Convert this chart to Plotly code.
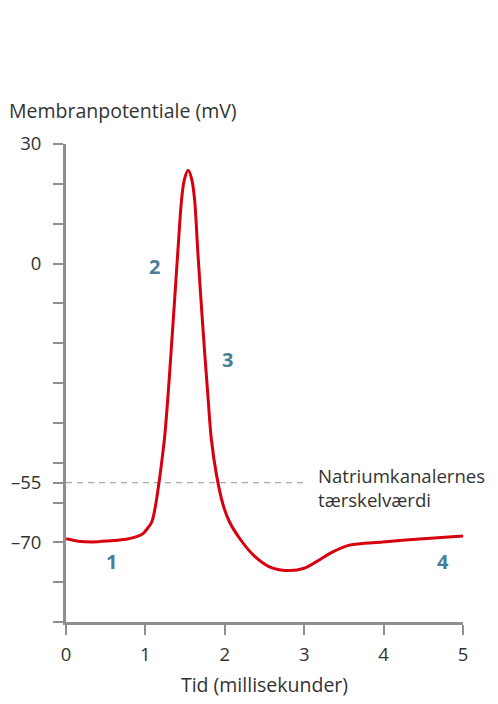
import plotly.graph_objects as go

# Data
time_ms = [0, 0.15, 0.34, 0.55, 0.76, 0.9, 0.97, 1.03, 1.08, 1.12, 1.16, 1.20, 1.245, 1.30,
           1.41, 1.455, 1.49, 1.54, 1.585, 1.62, 1.66, 1.72, 1.79, 1.83, 1.895, 1.98, 2.06,
           2.19, 2.36, 2.57, 2.82, 3.0, 3.15, 3.36, 3.57, 3.99, 4.41, 5.0]
potential_mv = [-69.1, -69.7, -69.9, -69.6, -69.2, -68.5, -67.8, -66.4, -64.9, -61.6, -56.6,
                -50.7, -43, -29, 3.4, 15.9, 21, 23.4, 21, 15.9, 3, -15, -34, -44, -53,
                -60.7, -64.9, -69.1, -73.2, -76.2, -77.1, -76.5, -74.9, -72.4, -70.7, -69.9,
                -69.2, -68.4]

y_tickvals = [30, 20, 10, 0, -10, -20, -30, -40, -50, -55, -60, -70, -80, -90]
y_ticktext = ["30", "", "", "0", "", "", "", "", "", "–55", "", "–70", "", ""]
x_tickvals = [0, 1, 2, 3, 4, 5]
x_ticktext = ["0", "1", "2", "3", "4", "5"]

threshold = -55
threshold_end = 3.0
threshold_label = "Natriumkanalernes<br>tærskelværdi"
phase_labels = ["1", "2", "3", "4"]
phase_x = [0.575, 1.12, 2.04, 4.75]
phase_y = [-74.7, -0.75, -24.1, -74.9]

FONT = "Open Sans"
TXT = "#333333"
AXC = "#8f8f8f"

# page body has an 8px margin; figure is sized to fit the 498x704 window
W, H = 490, 696
ML, MR, MT, MB = 58, 35, 136, 82
PW, PH = W - ML - MR, H - MT - MB

fig = go.Figure()
fig.add_trace(go.Scatter(x=time_ms, y=potential_mv, mode="lines",
                         line=dict(color="#d7000f", width=3, shape="spline", smoothing=0.9),
                         hoverinfo="skip", showlegend=False))

fig.add_shape(type="line", x0=0, x1=threshold_end, y0=threshold, y1=threshold,
              xref="x", yref="y", line=dict(color="#aaaaaa", width=1.2, dash="6px,5px"),
              layer="below")

for lab, px, py in zip(phase_labels, phase_x, phase_y):
    fig.add_annotation(x=px, y=py, text=f"<b>{lab}</b>", showarrow=False,
                       font=dict(family=FONT, size=20, color="#4a7d98"))

fig.add_annotation(x=3.15, y=-56.2, text=threshold_label,
                   showarrow=False, xanchor="left", yanchor="middle", align="left",
                   font=dict(family=FONT, size=18.6, color=TXT))

fig.add_annotation(x=(7 - 66) / PW, y=(622 - 110) / PH, xref="paper", yref="paper",
                   text="Membranpotentiale (mV)",
                   showarrow=False, xanchor="left", yanchor="middle",
                   font=dict(family=FONT, size=19.5, color=TXT))

fig.update_layout(
    width=W, height=H,
    margin=dict(l=ML, r=MR, t=MT, b=MB, autoexpand=False),
    paper_bgcolor="white", plot_bgcolor="white",
    font=dict(family=FONT, size=18.5, color=TXT),
    xaxis=dict(range=[0, 5], tickvals=x_tickvals, ticktext=x_ticktext, automargin=False,
               showgrid=False, zeroline=False, showline=True, linecolor=AXC, linewidth=3,
               ticks="outside", ticklen=10, tickwidth=1.5, tickcolor=AXC,
               ticklabelstandoff=4,
               title=dict(text="Tid (millisekunder)", font=dict(size=19.5, color=TXT), standoff=14)),
    yaxis=dict(range=[-90, 30], tickvals=y_tickvals, ticktext=y_ticktext, automargin=False,
               showgrid=False, zeroline=False, showline=True, linecolor=AXC, linewidth=3,
               ticks="outside", ticklen=10, tickwidth=1.5, tickcolor=AXC,
               ticklabelstandoff=8),
)

fig.write_html("out.html")
